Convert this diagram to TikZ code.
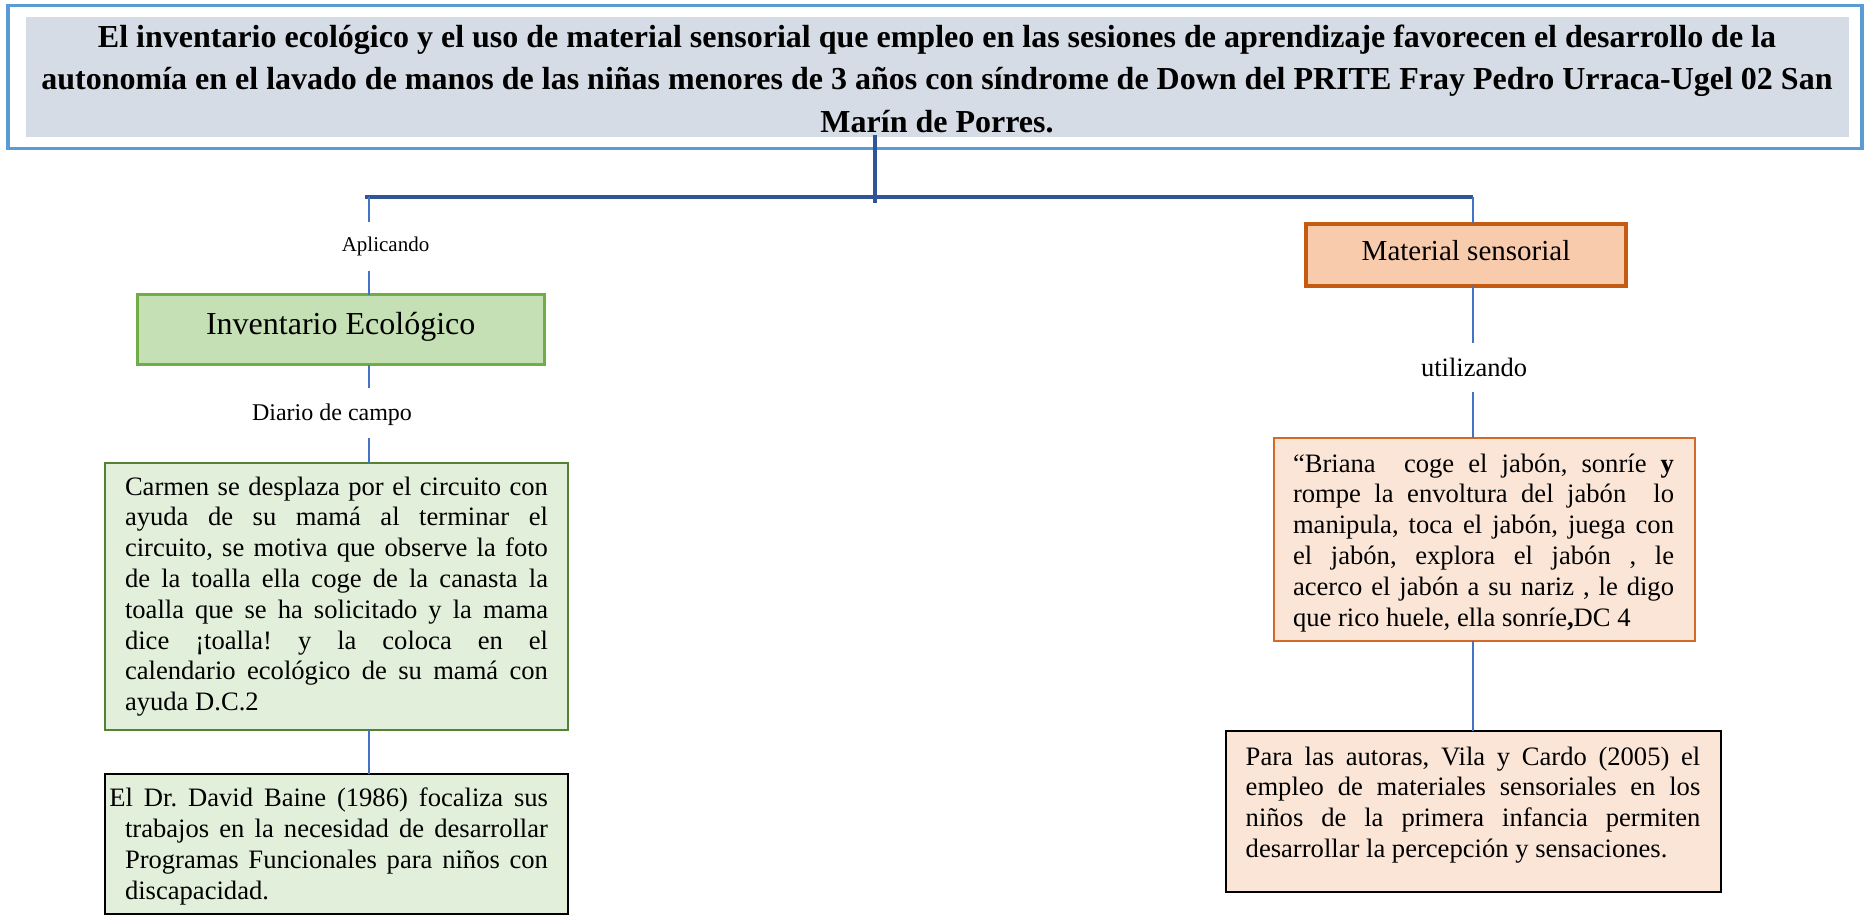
\documentclass[tikz,border=0pt]{standalone}
\usepackage{fontspec}
\setmainfont{Liberation Serif}
\setlength{\parindent}{0pt}
\frenchspacing
\definecolor{titleblue}{HTML}{5B9BD5}
\definecolor{titlegray}{HTML}{D6DCE5}
\definecolor{darkblue}{HTML}{2F5597}
\definecolor{lineblue}{HTML}{4472C4}
\definecolor{greenborder}{HTML}{70AD47}
\definecolor{greenfill}{HTML}{C5E0B4}
\definecolor{lightgreen}{HTML}{E2EFDA}
\definecolor{olivegreen}{HTML}{548235}
\definecolor{orangeborder}{HTML}{C55A11}
\definecolor{orangefill}{HTML}{F8CBAD}
\definecolor{peach}{HTML}{FBE5D6}
\definecolor{orangeline}{HTML}{D46A28}
\newcommand{\jl}[2]{{\spaceskip=0pt\xspaceskip=0pt\makebox[#1][s]{#2}}}
\newcommand{\nl}[1]{{\spaceskip=0pt\xspaceskip=0pt\mbox{#1}}}
\tikzset{
  thinline/.style={draw=lineblue, line width=1.8},
  thickline/.style={draw=darkblue, line width=4},
  box/.style={rectangle, inner sep=0, outer sep=0},
  body/.style={anchor=north west, inner sep=0, outer sep=0, align=left,
    font=\fontsize{26.6}{30.8}\selectfont},
  lbl/.style={inner sep=0, outer sep=0, anchor=base},
}
\begin{document}
\begin{tikzpicture}[x=1pt,y=-1pt]
\useasboundingbox (0,0) rectangle (1865,916);
% title
\node[box, draw=titleblue, line width=3.5, minimum width=1854, minimum height=143] (frame) at (935,77) {};
\node[box, fill=titlegray, minimum width=1823, minimum height=120] (titlefill) at (937.5,77) {};
\node[anchor=north, inner sep=0, outer sep=0, text width=1860, align=center,
  font=\bfseries\fontsize{32}{42.5}\selectfont] (title) at (937,17.25)
  {\strut\nl{El inventario ecológico y el uso de material sensorial que empleo en las sesiones de aprendizaje favorecen el desarrollo de la}\\
   \nl{autonomía en el lavado de manos de las niñas menores de 3 años con síndrome de Down del PRITE Fray Pedro Urraca-Ugel 02 San}\\
   \nl{Marín de Porres.}};
% connector coordinates
\coordinate (t1) at (875,135);
\coordinate (t2) at (875,203);
\coordinate (hl) at (365,197);
\coordinate (hr) at (1473,197);
\coordinate (la1) at (369,197);
\coordinate (la2) at (369,222);
\coordinate (la3) at (369,271);
\coordinate (ld1) at (369,388);
\coordinate (ld2) at (369,438);
\coordinate (ra1) at (1473,197);
\coordinate (ru1) at (1473,343);
\coordinate (ru2) at (1473,392);
% boxes
\node[box, draw=greenborder, fill=greenfill, line width=3.3, minimum width=407, minimum height=70,
  font=\fontsize{32}{36}\selectfont, text height=20, text depth=11] (inv) at (340.7,329.5) {Inventario Ecológico};
\node[box, draw=orangeborder, fill=orangefill, line width=3.5, minimum width=320, minimum height=62,
  font=\fontsize{29}{33}\selectfont, text height=20, text depth=10] (mat) at (1466,255) {Material sensorial};
\node[box, draw=olivegreen, fill=lightgreen, line width=2, minimum width=463, minimum height=267] (carmen) at (336.5,596.5) {};
\node[box, draw=black, fill=lightgreen, line width=2, minimum width=463, minimum height=140] (david) at (336.5,844) {};
\node[box, draw=orangeline, fill=peach, line width=2, minimum width=421, minimum height=203] (briana) at (1484.5,539.5) {};
\node[box, draw=black, fill=peach, line width=2, minimum width=495.4, minimum height=161.3] (para) at (1473.3,811.7) {};
% labels
\node[lbl, font=\fontsize{21}{24}\selectfont] (aplicando) at (385.5,251) {Aplicando};
\node[lbl, font=\fontsize{24}{28}\selectfont] (diario) at (332,420.7) {Diario de campo};
\node[lbl, font=\fontsize{26.5}{30}\selectfont] (utilizando) at (1474,376.7) {utilizando};
% texts
\node[body, text width=423] (carmenT) at (125,473.44) {\strut\jl{423pt}{Carmen se desplaza por el circuito con}\\
\jl{423pt}{ayuda de su mamá al terminar el}\\
\jl{423pt}{circuito, se motiva que observe la foto}\\
\jl{423pt}{de la toalla ella coge de la canasta la}\\
\jl{423pt}{toalla que se ha solicitado y la mama}\\
\jl{423pt}{dice ¡toalla! y la coloca en el}\\
\jl{423pt}{calendario ecológico de su mamá con}\\
\nl{ayuda D.C.2}};
\node[body, text width=423] (davidT) at (125,785.14) {\strut\hspace*{-15.7pt}\jl{438.7pt}{El Dr. David Baine (1986) focaliza sus}\\
\jl{423pt}{trabajos en la necesidad de desarrollar}\\
\jl{423pt}{Programas Funcionales para niños con}\\
\nl{discapacidad.}};
\node[body, text width=381] (brianaT) at (1293,450.44) {\strut\jl{381pt}{“Briana\ \ coge el jabón, sonríe \textbf{y}}\\
\jl{381pt}{rompe la envoltura del jabón\ \ lo}\\
\jl{381pt}{manipula, toca el jabón, juega con}\\
\jl{381pt}{el jabón, explora el jabón , le}\\
\jl{381pt}{acerco el jabón a su nariz , le digo}\\
\nl{que rico huele, ella sonríe\textbf{,}DC 4}};
\node[body, text width=454.6] (paraT) at (1245.7,743.44) {\strut\jl{454.6pt}{Para las autoras, Vila y Cardo (2005) el}\\
\jl{454.6pt}{empleo de materiales sensoriales en los}\\
\jl{454.6pt}{niños de la primera infancia permiten}\\
\nl{desarrollar la percepción y sensaciones.}};
% connectors
\draw[thickline] (t1) -- (t2);
\draw[thickline] (hl) -- (hr);
\draw[thinline] (la1) -- (la2);
\draw[thinline] (la3) -- (inv.north -| la3);
\draw[thinline] (inv.south -| la1) -- (ld1);
\draw[thinline] (ld2) -- (carmen.north -| ld2);
\draw[thinline] (carmen.south -| la1) -- (david.north -| la1);
\draw[thinline] (ra1) -- (mat.north -| ra1);
\draw[thinline] (mat.south -| ra1) -- (ru1);
\draw[thinline] (ru2) -- (briana.north -| ru2);
\draw[thinline] (briana.south -| ra1) -- (para.north -| ra1);
\end{tikzpicture}
\end{document}
